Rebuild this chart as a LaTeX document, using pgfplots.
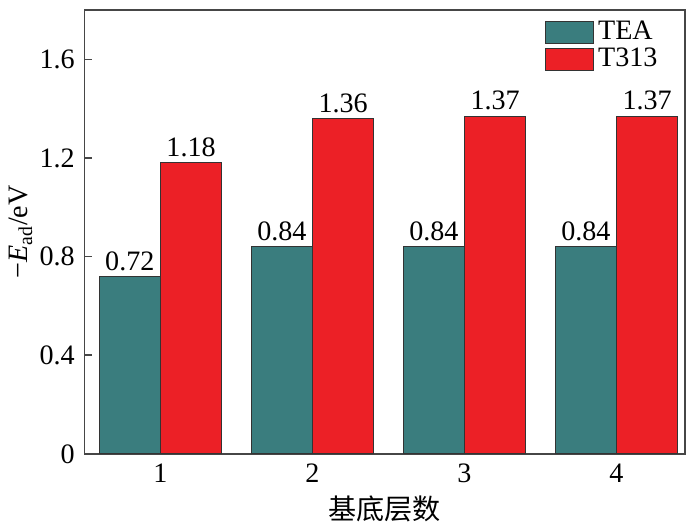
\documentclass[border=0pt]{standalone}
\usepackage{fontspec}
\setmainfont{Liberation Serif}
\newfontfamily\cjk{Noto Sans CJK SC}
\usepackage{pgfplots}
\pgfplotsset{compat=1.18}
\definecolor{teaC}{RGB}{58,125,126}
\definecolor{tC}{RGB}{236,32,38}
\definecolor{axC}{RGB}{70,70,70}
\begin{document}
\fontsize{14pt}{16pt}\selectfont
\begin{tikzpicture}
\begin{axis}[
  name=ax,
  scale only axis,
  width=299pt, height=221pt,
  xmin=0.5, xmax=4.45,
  ymin=0, ymax=1.8,
  ybar=0pt, bar width=30.5pt,
  xtick={1,2,3,4},
  xtick style={draw=none},
  ytick={0,0.4,0.8,1.2,1.6},
  ytick pos=left,
  tick align=inside,
  major tick length=4pt,
  axis line style={axC, line width=0.8pt},
  every tick/.style={axC, line width=0.8pt},
  /pgf/number format/assume math mode=true,
  yticklabel style={/pgf/number format/.cd, fixed, precision=1},
  xlabel={\cjk 基底层数},
  ylabel={−\textit{E}\textsubscript{ad}/eV},
  xlabel style={yshift=3pt},
  ylabel style={yshift=-6pt},
  nodes near coords,
  every node near coord/.append style={font=\fontsize{14pt}{16pt}\selectfont, yshift=-2pt,
    /pgf/number format/.cd, fixed, precision=2, fixed zerofill, assume math mode=true},
  legend style={draw=none, fill=none, at={(0.965,0.99)}, anchor=north east,
    row sep=-2pt, font=\fontsize{14pt}{16pt}\selectfont, inner sep=1pt},
  legend image code/.code={\draw[#1] (0pt,-5.5pt) rectangle (24pt,5.5pt);},
  legend cell align=left,
]
\addplot[fill=teaC, draw=black!80, line width=0.5pt] coordinates {(1,0.72) (2,0.84) (3,0.84) (4,0.84)};
\addplot[fill=tC, draw=black!80, line width=0.5pt] coordinates {(1,1.18) (2,1.36) (3,1.37) (4,1.37)};
\legend{TEA, T313}
\end{axis}
\path (ax.north east) ++(7.5pt,5pt);
\end{tikzpicture}
\end{document}
